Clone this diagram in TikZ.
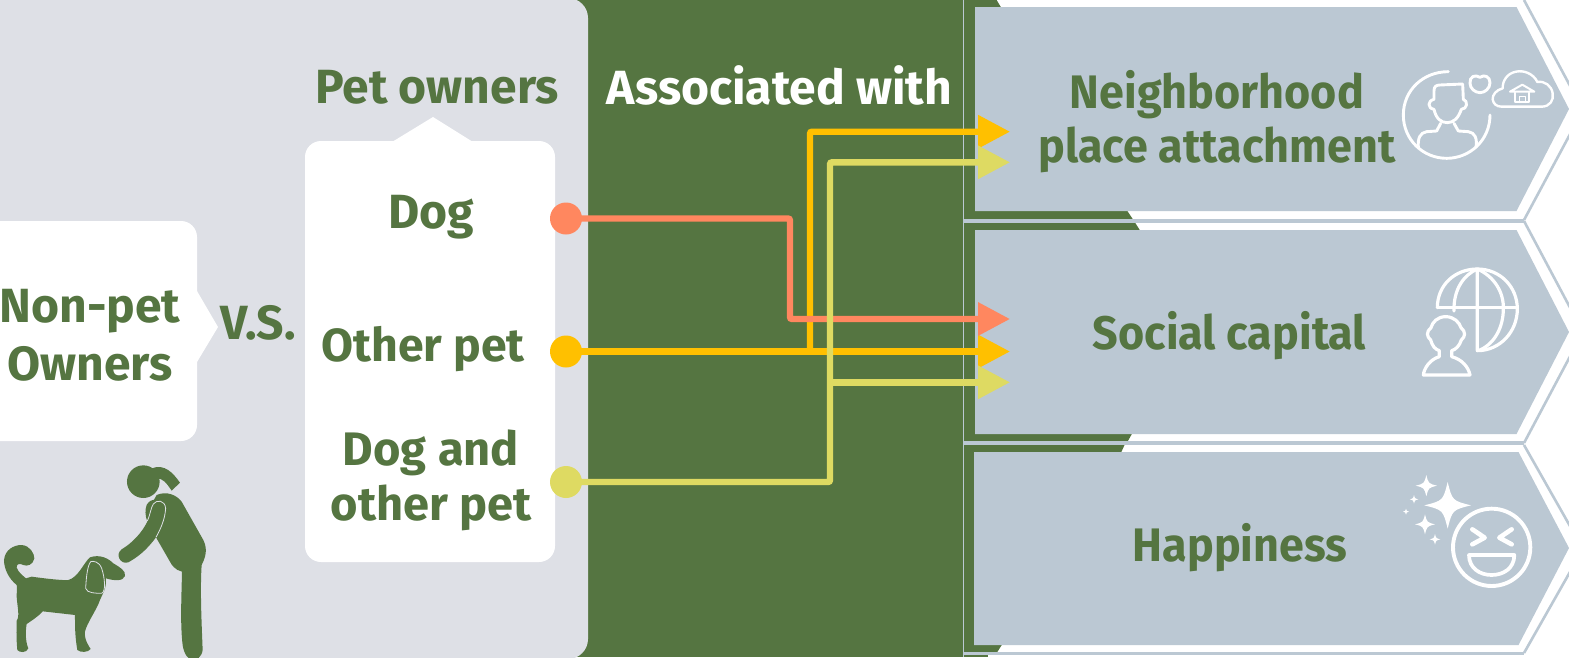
\documentclass[tikz,border=0pt]{standalone}
\usepackage{fontspec}
\usetikzlibrary{arrows.meta}
\setmainfont{Fira Sans}
\newfontfamily\condfont[FakeStretch=0.955]{Fira Sans}
\definecolor{grn}{HTML}{557541}
\definecolor{pale}{HTML}{DEE0E6}
\definecolor{chev}{HTML}{BBC8D3}
\definecolor{coral}{HTML}{FF875F}
\definecolor{amber}{HTML}{FFC000}
\definecolor{lime}{HTML}{DEDA62}
\newcommand{\spark}[3]{\fill[white] (#1,#2-#3) .. controls (#1+0.2*#3,#2-0.2*#3) .. (#1+#3,#2) .. controls (#1+0.2*#3,#2+0.2*#3) .. (#1,#2+#3) .. controls (#1-0.2*#3,#2+0.2*#3) .. (#1-#3,#2) .. controls (#1-0.2*#3,#2-0.2*#3) .. (#1,#2-#3) -- cycle;}
\tikzset{
 lab/.style={font=\bfseries\fontsize{48}{58}\selectfont, text=grn, align=center, inner sep=0pt},
 clab/.style={font=\condfont\bfseries\fontsize{47}{54}\selectfont, text=grn, align=center, inner sep=0pt},
 conn/.style={line width=6.4pt, rounded corners=2pt, -{Triangle[length=32pt,width=32pt]}},
 dot/.style={circle, inner sep=0pt, minimum size=32pt},
 outline/.style={draw=chev, line width=2.6pt, line join=miter},
 inner/.style={fill=chev},
 icon/.style={draw=white, line width=2.9pt, line cap=round, line join=round},
 sil/.style={fill=grn},
 hair/.style={draw=pale, line width=0.8pt},
}
\begin{document}
\begin{tikzpicture}[x=1pt,y=-1pt]
\useasboundingbox (0,0) rectangle (1569,657);
\fill[white] (0,0) rectangle (1569,657);
\fill[grn] (570,0) rectangle (963,657);
\fill[pale,rounded corners=20pt] (-30,-2) rectangle (588,659);
\fill[white,rounded corners=16pt] (-30,221) rectangle (197,441);
\fill[white] (197,291) -- (218,327) -- (197,362) -- cycle;
\fill[white,rounded corners=16pt] (305,141) rectangle (555,562);
\fill[white] (392,142) -- (433,117) -- (473,142) -- cycle;
% right-hand panels: green backing
\fill[grn] (963,0) -- (996.6,0) -- (1002,9) -- (1126,209) -- (1133,219.5) -- (963,219.5) -- cycle;
\fill[grn] (963,222.5) -- (1135,222.5) -- (1141,232) -- (1133,432) -- (1127.6,441.5) -- (963,441.5) -- cycle;
\fill[grn] (963,445) -- (1124.5,445) -- (1120,455) -- (1003,643) -- (997,652.5) -- (963,652.5) -- cycle;
\fill[grn] (963,655) rectangle (988,657);
% outlines
\draw[chev,line width=1.6pt] (963.6,0) -- (963.6,657);
\fill[chev] (963,219) rectangle (1524,222.7);
\fill[chev] (963,441.3) rectangle (1524,445);
\fill[chev] (963,652) rectangle (1524,655);
\draw[outline] (1524,0) -- (1583,110) -- (1524,220);
\draw[outline] (1524,221) -- (1583,332) -- (1524,443);
\draw[outline] (1524,445) -- (1583,549) -- (1524,653);
% inner chevrons
\path[inner] (975,7) -- (1516.5,7) -- (1569,109) -- (1516.5,211) -- (975,211) -- cycle;
\path[inner] (975,230) -- (1516.5,230) -- (1569,332) -- (1516.5,434) -- (975,434) -- cycle;
\path[inner] (974,452) -- (1518.5,452) -- (1569,548) -- (1518.5,645) -- (974,645) -- cycle;
% text
\node[lab] (pet) at (437,87) {Pet owners};
\node[lab,text=white] (assoc) at (779.5,85.5) {Associated with};
\node[lab] (nonpet) at (90,335) {Non-pet\\Owners};
\node[lab] (vs) at (258,323) {V.S.};
\node[lab] (dog) at (431,217) {Dog};
\node[lab,font=\bfseries\fontsize{46.4}{55}\selectfont] (other) at (423,349.5) {Other pet};
\node[lab,font=\bfseries\fontsize{47}{55}\selectfont] (both) at (431,480) {Dog and\\other pet};
\node[clab] (neigh) at (1217,122) {Neighborhood\\place attachment};
\node[clab] (social) at (1229.5,336) {Social capital};
\node[clab] (happy) at (1240,548) {Happiness};
% connectors
\node[dot,fill=coral] (dd) at (566,218.5) {};
\node[dot,fill=amber] (ad) at (566,351.5) {};
\node[dot,fill=lime] (ld) at (566,482) {};
\coordinate (t1) at (1010,131.7);
\coordinate (t2) at (1010,162.3);
\coordinate (t3) at (1010,319);
\coordinate (t4) at (1010,351.5);
\coordinate (t5) at (1010,382.3);
\draw[conn,amber] (ad.center) -- (t4);
\draw[conn,amber] (810,351.5) -- (810,131.7) -- (t1);
\draw[conn,coral] (dd.center) -- (790,218.5) -- (790,319) -- (t3);
\draw[conn,lime] (ld.center) -- (830,482) -- (830,162.3) -- (t2);
\draw[conn,lime] (830,382.3) -- (t5);
% icon: person, heart, cloud
\begin{scope}[shift={(1390,60)},x=0.3333pt,y=-0.3333pt]
\draw[icon] (175,35) .. controls (100,35) and (40,90) .. (40,165) .. controls (40,240) and (100,295) .. (170,295) .. controls (240,295) and (300,240) .. (300,165);
\draw[icon] (132,118) -- (132,92) .. controls (132,80) and (138,75) .. (150,75) -- (218,72) -- (220,118) .. controls (235,122) and (232,148) .. (214,148) .. controls (205,175) and (190,188) .. (172,188) .. controls (152,188) and (138,175) .. (132,148) .. controls (112,145) and (112,122) .. (132,118);
\draw[icon] (152,190) -- (140,213) -- (110,215) .. controls (90,218) and (83,235) .. (85,262);
\draw[icon] (192,190) -- (205,213) -- (235,215) .. controls (255,218) and (262,235) .. (258,262);
\draw[icon] (270,52) .. controls (255,42) and (238,50) .. (240,70) .. controls (240,85) and (255,98) .. (270,98) .. controls (285,98) and (300,85) .. (300,68) .. controls (300,50) and (283,42) .. (270,52);
\draw[icon,line width=2.4pt] (335,140) -- (455,140) .. controls (480,140) and (492,120) .. (488,100) .. controls (485,78) and (465,62) .. (442,66) .. controls (430,40) and (400,30) .. (378,35) .. controls (350,40) and (337,65) .. (338,85) .. controls (318,90) and (307,105) .. (308,118) .. controls (310,132) and (320,140) .. (335,140);
\draw[icon,line width=2pt] (360,95) -- (397,74) -- (433,95) -- cycle;
\draw[icon,line width=2pt] (375,98) -- (375,127) -- (418,127) -- (418,98);
\draw[icon,line width=1.6pt] (388,127) -- (388,110) -- (406,110) -- (406,127);
\end{scope}
% icon: globe and person
\begin{scope}[shift={(1400,260)},x=0.3333pt,y=-0.3333pt]
\draw[icon,line width=3.2pt] (112,143) .. controls (112,75) and (165,27) .. (232,27) .. controls (300,27) and (352,80) .. (352,147) .. controls (352,215) and (300,272) .. (232,272) -- (232,27);
\draw[icon,line width=3.2pt] (112,143) -- (352,143);
\draw[icon,line width=3.2pt] (232,27) .. controls (190,45) and (160,90) .. (162,153);
\draw[icon,line width=3.2pt] (232,27) .. controls (285,50) and (312,100) .. (310,147) .. controls (310,200) and (285,250) .. (240,270);
\draw[icon,line width=3.2pt] (137,170) .. controls (112,170) and (97,187) .. (93,203) .. controls (78,215) and (80,230) .. (92,240) .. controls (97,258) and (105,268) .. (118,272) -- (118,290) .. controls (90,298) and (72,325) .. (70,345) -- (210,345) .. controls (205,320) and (185,298) .. (155,290) -- (155,272) .. controls (168,268) and (178,258) .. (184,240) .. controls (196,230) and (198,215) .. (183,203) .. controls (178,187) and (162,170) .. (137,170);
\end{scope}
% icon: sparkles and laughing face
\begin{scope}[shift={(1395,470)},x=0.3333pt,y=-0.3333pt]
\spark{158}{106}{70}
\spark{94}{47}{32}
\spark{57}{88}{13}
\spark{33}{125}{9}
\spark{90}{163}{30}
\spark{120}{208}{16}
\draw[icon,line width=3.9pt] (290,232) circle [radius=116];
\draw[icon,line width=4.6pt] (232,178) -- (269,203) -- (232,223);
\draw[icon,line width=4.6pt] (350,178) -- (313,203) -- (350,223);
\draw[icon,line width=3.7pt] (222,255) -- (358,255) .. controls (358,295) and (325,315) .. (290,315) .. controls (255,315) and (222,295) .. (222,255) -- cycle;
\end{scope}
% woman and dog
\begin{scope}[shift={(0,450)},x=0.3333pt,y=-0.3333pt]
\fill[grn] (430,95) circle [radius=49];
\path[sil] (455,55) .. controls (495,40) and (520,70) .. (540,98) -- (515,122) .. controls (500,100) and (490,85) .. (470,85) -- cycle;
\path[sil] (470,135) .. controls (500,122) and (530,135) .. (545,155) -- (610,270) .. controls (625,300) and (615,325) .. (605,345) .. controls (600,420) and (605,520) .. (608,600) .. controls (605,622) and (590,630) .. (578,630) .. controls (565,630) and (552,612) .. (548,585) .. controls (540,520) and (545,430) .. (546,365) .. controls (525,360) and (515,345) .. (510,335) -- (468,262) -- (440,190) -- cycle;
\path[sil] (440,165) .. controls (450,145) and (480,140) .. (497,175) .. controls (495,210) and (480,240) .. (468,262) .. controls (440,300) and (415,320) .. (385,337) .. controls (360,345) and (345,312) .. (365,298) .. controls (395,280) and (425,250) .. (442,215) .. controls (435,195) and (435,180) .. (440,165) -- cycle;
\draw[hair] (442,213) .. controls (452,190) and (452,175) .. (460,162) .. controls (470,148) and (495,150) .. (497,175) .. controls (495,210) and (480,240) .. (468,262);
\path[sil] (50,405) .. controls (25,385) and (12,355) .. (12,330) .. controls (15,300) and (40,285) .. (65,285) .. controls (90,287) and (103,310) .. (103,325) .. controls (100,345) and (80,350) .. (70,345) .. controls (60,340) and (50,340) .. (50,352) .. controls (55,368) and (70,378) .. (78,385) -- (95,380) .. controls (130,385) and (190,392) .. (205,390) .. controls (235,382) and (250,340) .. (270,322) .. controls (300,312) and (325,325) .. (340,340) .. controls (360,352) and (378,362) .. (375,378) .. controls (370,395) and (340,392) .. (318,385) .. controls (320,420) and (305,435) .. (300,450) .. controls (290,480) and (260,520) .. (255,545) .. controls (252,570) and (268,590) .. (272,597) .. controls (265,608) and (240,608) .. (232,600) .. controls (225,560) and (225,530) .. (225,495) -- (128,484) .. controls (115,500) and (90,515) .. (80,522) .. controls (75,550) and (78,580) .. (85,595) .. controls (80,610) and (58,608) .. (52,600) .. controls (48,560) and (50,530) .. (50,512) .. controls (60,500) and (52,470) .. (50,440) .. controls (50,425) and (52,410) .. (50,405) -- cycle;
\draw[hair] (272,335) .. controls (260,350) and (258,400) .. (257,415) .. controls (260,430) and (290,430) .. (305,430) .. controls (318,425) and (315,385) .. (305,355) .. controls (298,335) and (280,332) .. (272,335) -- cycle;
\end{scope}
\end{tikzpicture}
\end{document}
